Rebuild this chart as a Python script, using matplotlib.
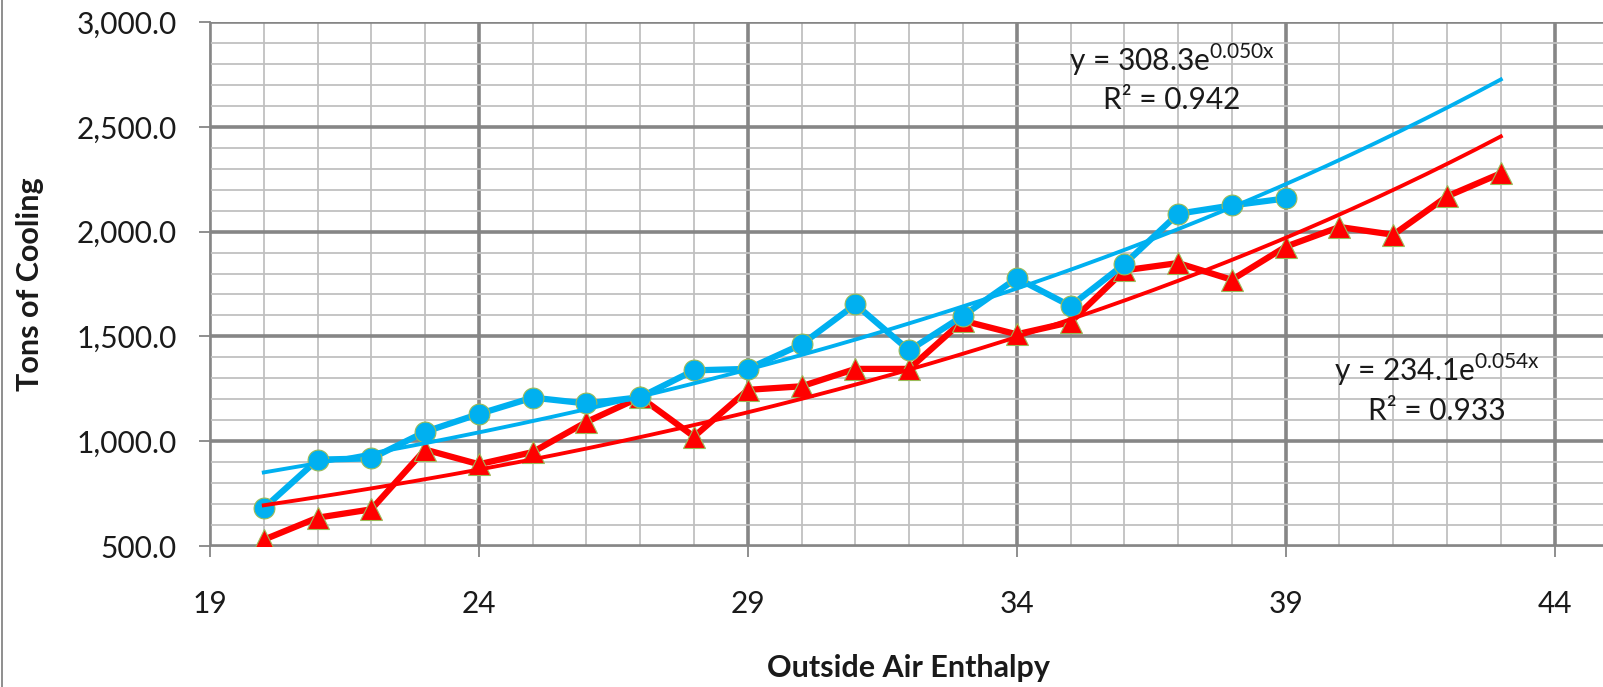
import numpy as np
import matplotlib
matplotlib.use("Agg")
import matplotlib.pyplot as plt
from matplotlib.ticker import FixedLocator, MultipleLocator, FuncFormatter
from matplotlib.lines import Line2D

plt.rcParams['font.family'] = ['Lato', 'DejaVu Sans']
plt.rcParams['mathtext.fontset'] = 'custom'
plt.rcParams['mathtext.rm'] = 'Lato'

# ---- data ----
blue_x = [20, 21, 22, 23, 24, 25, 26, 27, 28, 29, 30, 31, 32, 33, 34, 35, 36, 37, 38, 39]
blue_y = [680, 912, 918, 1045, 1130, 1208, 1180, 1210, 1338, 1345, 1462, 1653, 1433, 1598, 1778, 1645, 1845, 2085, 2125, 2158]
red_x = [20, 21, 22, 23, 24, 25, 26, 27, 28, 29, 30, 31, 32, 33, 34, 35, 36, 37, 38, 39, 40, 41, 42, 43]
red_y = [530, 635, 675, 960, 890, 948, 1092, 1210, 1022, 1245, 1262, 1345, 1345, 1575, 1510, 1568, 1815, 1850, 1770, 1928, 2022, 1985, 2168, 2278]
x_ticks = [19, 24, 29, 34, 39, 44]
y_ticks = [500, 1000, 1500, 2000, 2500, 3000]
trend_x_range = (20, 43)
blue_eq = ["y = 308.3e", "0.050x", "R\u00b2 = 0.942"]
red_eq = ["y = 234.1e", "0.054x", "R\u00b2 = 0.933"]
x_label = "Outside Air Enthalpy"
y_label = "Tons of Cooling"

BLUE = "#00B0F0"
RED = "#FF0000"
EDGE = "#9BBB59"
TXT = "#1a1a1a"

fig = plt.figure(figsize=(16.03, 6.87), dpi=100)
ax = fig.add_axes([210/1603, 1-546/687, 1-210/1603, (546-22)/687])
ax.set_xlim(19, 44.9)
ax.set_ylim(500, 3000)

ax.xaxis.set_major_locator(FixedLocator(x_ticks))
ax.xaxis.set_minor_locator(MultipleLocator(1))
ax.yaxis.set_major_locator(FixedLocator(y_ticks))
ax.yaxis.set_minor_locator(MultipleLocator(100))
ax.yaxis.set_major_formatter(FuncFormatter(lambda v, p: f"{v:,.1f}"))
ax.xaxis.set_major_formatter(FuncFormatter(lambda v, p: f"{v:.0f}"))

ax.grid(which='minor', color='#C0C0C0', linewidth=1.3)
ax.grid(which='major', color='#868686', linewidth=2.6)
ax.set_axisbelow(True)
for s in ['top', 'right']:
    ax.spines[s].set_visible(False)
for s in ['left', 'bottom']:
    ax.spines[s].set_color('#868686')
    ax.spines[s].set_linewidth(1.3)
ax.tick_params(which='major', length=8, width=1.3, color='#868686', labelsize=21.5,
               labelcolor=TXT)
ax.tick_params(axis='x', which='major', pad=24)
ax.tick_params(axis='y', which='major', pad=16)
ax.tick_params(which='minor', length=0)

# data series
ax.plot(red_x, red_y, color=RED, linewidth=4.5, marker='^', markersize=16,
        markerfacecolor=RED, markeredgecolor=EDGE, markeredgewidth=0.8, zorder=3)
ax.plot(blue_x, blue_y, color=BLUE, linewidth=4.5, marker='o', markersize=15,
        markerfacecolor=BLUE, markeredgecolor=EDGE, markeredgewidth=0.8, zorder=4)

# exponential trend lines (least squares on log y, as Excel does)
xs = np.linspace(trend_x_range[0], trend_x_range[1], 200)
bb, ba = np.polyfit(np.array(blue_x), np.log(blue_y), 1)
rb, ra = np.polyfit(np.array(red_x), np.log(red_y), 1)
ax.plot(xs, np.exp(ra) * np.exp(rb * xs), color=RED, linewidth=2.8, zorder=5)
ax.plot(xs, np.exp(ba) * np.exp(bb * xs), color=BLUE, linewidth=2.8, zorder=5)

# equations
def eq_text(xc, y1, y2, eq):
    ax.text(xc, y1, eq[0] + r"$^{\mathregular{" + eq[1] + "}}$", transform=fig.transFigure,
            ha='center', va='center', fontsize=21.5, color=TXT)
    ax.text(xc, y2, eq[2], transform=fig.transFigure,
            ha='center', va='center', fontsize=21.5, color=TXT)

eq_text(1172/1603, 1-60/687, 1-100/687, blue_eq)
eq_text(1437/1603, 1-370/687, 1-411/687, red_eq)

fig.text(908/1603, 1-668/687, x_label, ha='center', va='center', fontsize=22, fontweight='bold',
         color=TXT)
fig.text(30/1603, 1-284/687, y_label, ha='center', va='center', rotation=90, fontsize=22,
         fontweight='bold', color=TXT)

fig.add_artist(Line2D([1.5/1603, 1.5/1603], [0, 1], color='#868686', linewidth=1.3,
                      transform=fig.transFigure))

fig.savefig("out.png", dpi=100)
